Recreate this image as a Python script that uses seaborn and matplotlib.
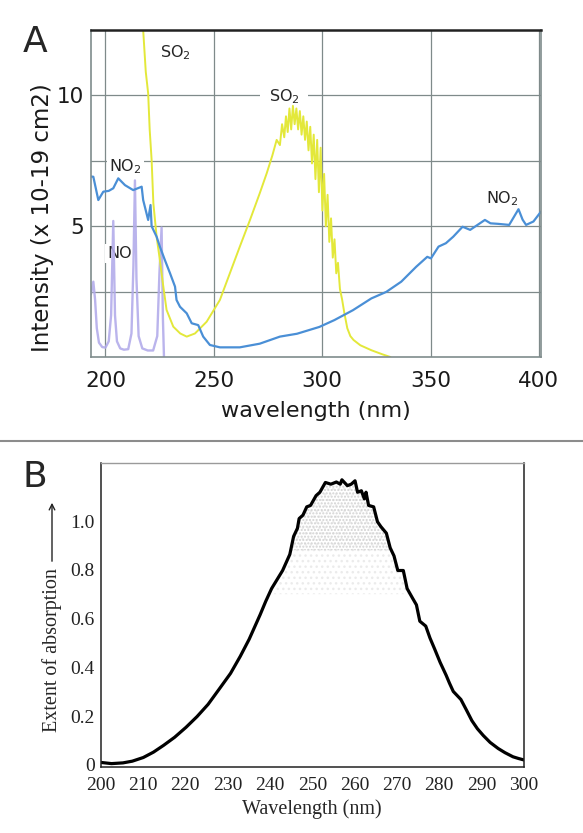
import matplotlib
matplotlib.use("Agg")
import matplotlib.pyplot as plt
from matplotlib.lines import Line2D
import numpy as np
import seaborn as sns

# ---- panel A: absorption cross sections ----
no_x = [193.3, 194.4, 195.2, 196.0, 197.0, 198.5, 200.0, 201.5, 202.6, 203.6, 204.4, 205.3,
        206.8, 208.5, 210.5, 212.0, 212.9, 213.6, 214.3, 215.3, 217.0, 219.5, 222.0, 223.9,
        224.9, 225.9, 226.5, 227.0]
no_y = [2.4, 2.88, 2.2, 1.1, 0.55, 0.38, 0.36, 0.6, 1.6, 5.2, 1.6, 0.6,
        0.33, 0.28, 0.3, 0.9, 3.5, 6.75, 3.0, 0.8, 0.33, 0.25, 0.25, 0.8,
        3.2, 4.95, 1.5, 0.0]

so2_x = [216.8, 217.4, 218.6, 219.7, 220.4, 221.3, 222.1, 223.6, 225.1, 226.7, 228.2, 231.3,
         234.5, 237.5, 241.3, 246.7, 252.8, 257.4, 262.0, 266.7, 271.2, 274.4, 277.0, 279.0,
         280.5, 281.5, 282.5, 283.3, 284.1, 284.9, 285.7, 286.5, 287.3, 288.1, 288.9, 289.7,
         290.5, 291.3, 292.1, 292.9, 293.7, 294.5, 295.3, 296.1, 296.9, 297.7, 298.5, 299.3,
         300.1, 300.9, 301.7, 302.5, 303.3, 304.1, 304.9, 305.7, 306.5, 307.3, 308.2, 309.2,
         310.2, 311.6, 313.0, 314.5, 317.6, 322.7, 327.9, 331.5]
so2_y = [14.0, 12.5, 10.9, 10.08, 8.7, 7.53, 5.88, 4.6, 3.71, 2.69, 1.8, 1.16,
         0.9, 0.78, 0.9, 1.35, 2.18, 3.2, 4.22, 5.24, 6.26, 7.02, 7.7, 8.3,
         8.1, 8.9, 8.4, 9.2, 8.6, 9.5, 8.7, 9.6, 8.9, 9.5, 8.7, 9.4,
         8.5, 9.2, 8.3, 9.0, 7.9, 8.8, 7.4, 8.5, 6.8, 8.3, 6.3, 8.0,
         5.6, 7.0, 5.0, 6.2, 4.4, 5.3, 3.8, 4.5, 3.2, 3.6, 2.6, 2.2,
         1.7, 1.1, 0.8, 0.65, 0.45, 0.26, 0.1, 0.0]

no2_x = [193.3, 194.4, 196.7, 199.0, 201.5, 203.6, 205.9, 209.0, 212.8, 216.7, 217.4, 219.7,
         220.8, 221.3, 223.6, 225.1, 227.4, 229.8, 232.1, 232.8, 234.4, 237.5, 239.8, 242.8,
         245.1, 248.2, 252.8, 262.0, 271.2, 280.5, 288.4, 298.7, 305.6, 314.2, 322.7, 329.6,
         336.5, 343.4, 348.5, 350.2, 353.7, 357.1, 360.5, 364.8, 368.3, 371.7, 375.1, 377.7,
         381.2, 386.3, 390.6, 392.5, 394.1, 397.5, 401.0]
no2_y = [6.9, 6.89, 6.0, 6.32, 6.35, 6.45, 6.83, 6.57, 6.38, 6.51, 6.0, 5.24,
         5.81, 5.0, 4.6, 4.22, 3.71, 3.2, 2.69, 2.18, 1.92, 1.67, 1.29, 1.22,
         0.78, 0.46, 0.37, 0.37, 0.51, 0.78, 0.89, 1.15, 1.41, 1.79, 2.24, 2.49,
         2.88, 3.45, 3.83, 3.77, 4.22, 4.35, 4.6, 4.98, 4.86, 5.05, 5.24, 5.11,
         5.09, 5.05, 5.65, 5.25, 5.05, 5.18, 5.56]

# ---- panel B: absorption band ----
abs_x = [200.0, 202.6, 205.3, 207.5, 210.1, 212.5, 214.9, 217.5, 220.2, 222.8, 225.4, 228.0,
         230.7, 233.0, 235.1, 237.7, 239.0, 240.4, 241.7, 243.0,
         244.7, 245.6, 246.5, 246.9, 247.8, 248.7, 249.6, 250.9, 251.8, 253.1, 254.4, 255.7,
         256.6, 257.0, 258.3, 259.2, 260.1, 260.7, 261.6, 262.3, 262.7, 263.3, 264.5, 265.4,
         266.2, 267.5, 268.4, 269.3, 270.2, 271.5, 272.4, 273.7, 274.6, 275.4, 276.8, 277.8,
         278.9, 280.2, 281.6, 282.4, 283.3, 285.1, 286.4, 287.7, 289.0, 290.4, 292.0, 293.9,
         295.5, 297.4, 298.7, 300.0]
abs_y = [0.01, 0.005, 0.008, 0.015, 0.03, 0.052, 0.08, 0.113, 0.154, 0.198, 0.248, 0.31,
         0.375, 0.445, 0.515, 0.616, 0.67, 0.723, 0.76, 0.797,
         0.863, 0.937, 0.97, 1.01, 1.024, 1.058, 1.064, 1.104, 1.118, 1.158, 1.151, 1.16,
         1.151, 1.169, 1.145, 1.151, 1.165, 1.118, 1.124, 1.091, 1.118, 1.064, 1.058, 0.997,
         0.977, 0.95, 0.89, 0.857, 0.797, 0.797, 0.723, 0.683, 0.656, 0.589, 0.569, 0.52,
         0.475, 0.42, 0.368, 0.335, 0.301, 0.268, 0.225, 0.181, 0.148, 0.12, 0.092, 0.067,
         0.05, 0.033, 0.026, 0.02]

sns.set_style("white")
plt.rcParams['font.family'] = ['DejaVu Sans']

fig = plt.figure(figsize=(5.83, 8.33), dpi=100)

# panel A
axA = fig.add_axes([0.156, 0.5714, 0.772, 0.3926])
axA.set_axisbelow(True)
sns.lineplot(x=no_x, y=no_y, ax=axA, color='#b3acea', linewidth=1.7,
             sort=False, estimator=None, alpha=0.9)
sns.lineplot(x=so2_x, y=so2_y, ax=axA, color='#e3e83a', linewidth=1.4,
             sort=False, estimator=None)
sns.lineplot(x=no2_x, y=no2_y, ax=axA, color='#4a8fd6', linewidth=1.6,
             sort=False, estimator=None)
axA.set_xlim(193.3, 401)
axA.set_ylim(0, 12.5)
axA.set_xticks([200, 250, 300, 350, 400])
axA.set_yticks([2.5, 5, 7.5, 10])
axA.set_yticklabels(['', '5', '', '10'])
axA.grid(True, color='#7f8a8a', linewidth=0.9)
axA.tick_params(length=0, labelsize=15.5, pad=5, labelcolor='#1a1a1a')
axA.tick_params(axis='x', pad=10)
for side in ['left', 'right', 'bottom']:
    axA.spines[side].set_color('#7f8c8c')
    axA.spines[side].set_linewidth(1.2)
axA.spines['top'].set_color('#222222')
axA.spines['top'].set_linewidth(1.8)
axA.set_xlabel('wavelength (nm)', fontsize=16, labelpad=7, color='#1a1a1a')
axA.set_ylabel('')
fig.text(43 / 583, 1 - 218 / 833, 'Intensity (x 10-19 cm2)', rotation=90,
         fontsize=16.5, ha='center', va='center', color='#1a1a1a')

lab = dict(fontsize=11.5, ha='center', va='center', zorder=1.5,
           bbox=dict(boxstyle='square,pad=0.15', fc='white', ec='none'))
axA.text(232.5, 11.63, 'SO$_2$', **lab)
axA.text(282.4, 9.97, 'SO$_2$', fontsize=11.5, ha='center', va='center', zorder=1.5,
         bbox=dict(boxstyle='square,pad=0.55', fc='white', ec='none'))
axA.text(209.3, 7.28, 'NO$_2$', **lab)
axA.text(206.7, 3.96, 'NO', **lab)
axA.text(383.0, 6.07, 'NO$_2$', **lab)

fig.text(35 / 583, 1 - 42 / 833, 'A', fontsize=26, ha='center', va='center')

# separator
fig.add_artist(Line2D([0, 1], [0.471, 0.471], color='#8c8c8c', linewidth=1.5))

# panel B
serif = ['Liberation Serif', 'DejaVu Serif']
axB = fig.add_axes([0.1724, 0.0792, 0.7264, 0.3653])
abs_arr_x = np.array(abs_x)
abs_arr_y = np.array(abs_y)
axB.fill_between(abs_arr_x, 0.7, abs_arr_y, where=(abs_arr_y > 0.7), interpolate=True,
                 facecolor='none', edgecolor='#ebebeb', hatch='...', linewidth=0)
axB.fill_between(abs_arr_x, 0.88, abs_arr_y, where=(abs_arr_y > 0.88), interpolate=True,
                 facecolor='none', edgecolor='#d2d2d2', hatch='.....', linewidth=0)
sns.lineplot(x=abs_x, y=abs_y, ax=axB, color='black', linewidth=2.3,
             sort=False, estimator=None)
axB.set_xlim(200, 300)
axB.set_ylim(-0.009, 1.239)
axB.set_xticks(range(200, 301, 10))
axB.set_yticks([0, 0.2, 0.4, 0.6, 0.8, 1.0])
axB.set_yticklabels(['0', '0.2', '0.4', '0.6', '0.8', '1.0'])
axB.tick_params(direction='in', length=7, width=1, colors='#222222', labelsize=14)
axB.tick_params(axis='x', pad=7)
axB.tick_params(axis='y', pad=4)
for t in axB.get_xticklabels() + axB.get_yticklabels():
    t.set_family(serif)
for side in ['left', 'right', 'bottom']:
    axB.spines[side].set_color('#222222')
    axB.spines[side].set_linewidth(1.1)
axB.spines['top'].set_color('#9a9a9a')
axB.spines['top'].set_linewidth(1.0)
axB.set_xlabel('Wavelength (nm)', fontsize=14.5, family=serif, labelpad=4)
axB.set_ylabel('')
fig.text(52 / 583, 1 - 650 / 833, 'Extent of absorption', rotation=90, fontsize=14.5,
         family=serif, ha='center', va='center')
fig.add_artist(plt.Annotation('', xy=(52 / 583, 1 - 500 / 833), xytext=(52 / 583, 1 - 564 / 833),
                              xycoords='figure fraction', textcoords='figure fraction',
                              arrowprops=dict(arrowstyle='->', color='#222222', lw=1.0)))

fig.text(35 / 583, 1 - 477 / 833, 'B', fontsize=26, ha='center', va='center')

fig.savefig('out.png', dpi=100)
